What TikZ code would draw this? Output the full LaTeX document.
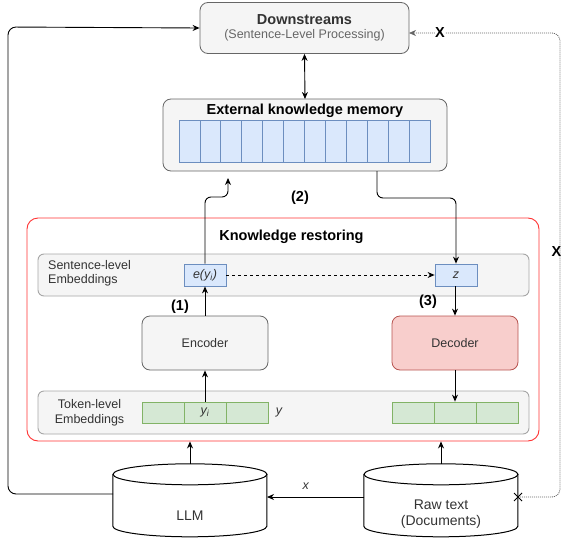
\documentclass[tikz,border=0pt]{standalone}
\usepackage{fontspec}
\setmainfont{Liberation Sans}
\usetikzlibrary{arrows.meta}

\definecolor{boxgray}{HTML}{F5F5F5}
\definecolor{linegray}{HTML}{666666}
\definecolor{bandline}{HTML}{A6A6A6}
\definecolor{bluefill}{HTML}{DAE8FC}
\definecolor{blueline}{HTML}{6C8EBF}
\definecolor{greenfill}{HTML}{D5E8D4}
\definecolor{greenline}{HTML}{82B366}
\definecolor{redfill}{HTML}{F8CECC}
\definecolor{redline}{HTML}{B85450}
\definecolor{restoreline}{HTML}{FF3333}
\definecolor{textgray}{HTML}{333333}

\newcommand{\txt}{\fontsize{12.5}{14.5}\selectfont}
\newcommand{\ttl}{\fontsize{14.5}{16}\selectfont\bfseries}

\tikzset{
	graybox/.style={draw=linegray, fill=boxgray, rounded corners=8pt, line width=0.8pt, text=textgray, font=\txt},
	band/.style={draw=bandline, fill=boxgray, rounded corners=6pt, line width=0.9pt, minimum width=491pt, inner sep=0pt},
	bluecell/.style={draw=blueline, fill=bluefill, line width=0.8pt, minimum width=42pt, minimum height=22pt, inner sep=0pt, text=textgray, font=\txt\itshape},
	greencell/.style={draw=greenline, fill=greenfill, line width=0.8pt, minimum width=42pt, minimum height=21pt, inner sep=0pt, text=textgray, font=\txt\itshape},
	conn/.style={line width=0.9pt, ->},
	dotline/.style={line width=0.8pt, draw=linegray, dash pattern=on 1pt off 1pt},
	cylline/.style={line width=1pt, draw=black},
	cyltext/.style={font=\fontsize{14}{16}\selectfont, text=textgray, align=center},
	steplabel/.style={font=\ttl, text=black}
}

\begin{document}
\begin{tikzpicture}[x=1pt, y=-1pt, >={Stealth[length=7pt,width=6pt]}]
	\useasboundingbox (0,0) rectangle (562,538);

	% top: downstream tasks
	\node[graybox, minimum width=209pt, minimum height=51pt, align=center] (down) at (304.5,28)
		{{\fontsize{14.5}{16}\selectfont\bfseries Downstreams}\\[-1pt]{\color{linegray}(Sentence-Level Processing)}};

	% memory
	\node[graybox, minimum width=284pt, minimum height=72pt] (mem) at (305,135) {};
	\node[steplabel] (memtitle) at (305,111) {External knowledge memory};
	\foreach \i in {0,...,11}
		\draw[draw=blueline, fill=bluefill, line width=0.8pt] (179+\i*20.917,120) rectangle ++(20.917,42);
	\draw[conn, <->] (down.south) -- (mem.south |- 0,99);

	% knowledge restoring block
	\node[draw=restoreline, rounded corners=11pt, line width=0.9pt, minimum width=512pt, minimum height=223pt] (restore) at (283,329.5) {};
	\node[steplabel] (restoretitle) at (291.5,237) {Knowledge restoring};

	\node[band, minimum height=42pt] (sentband) at (283.5,275) {};
	\node[font=\txt, text=textgray, align=left, anchor=west, inner sep=0pt] (sentlabel) at (48,273.5) {Sentence-level\\Embeddings};
	\node[bluecell] (ey) at (205,275) {e(y\textsubscript{i})};
	\node[bluecell] (zz) at (456,275) {z};

	\node[graybox, minimum width=126pt, minimum height=54pt] (enc) at (205,343) {Encoder};
	\node[graybox, draw=redline, fill=redfill, minimum width=126pt, minimum height=54pt] (dec) at (455,343) {Decoder};

	\node[band, minimum height=43pt] (tokband) at (283.5,412.5) {};
	\node[font=\txt, text=textgray, align=center, inner sep=0pt] (toklabel) at (89.5,413) {Token-level\\Embeddings};
	\foreach \i in {0,1,2} {
		\node[greencell] (tl\i) at (163+\i*42,412.5) {};
		\node[greencell] (tr\i) at (413+\i*42,412.5) {};
	}
	\node[font=\txt\itshape, text=textgray] (yi) at (tl1) {y\textsubscript{i}};
	\node[font=\txt\itshape, text=textgray] (ylabel) at (279,412) {y};

	% flow inside the block
	\draw[conn] (tl1.north) -- (enc.south);
	\draw[conn] (enc.north) -- (ey.south);
	\draw[conn, dashed] (ey.east) -- (zz.west);
	\draw[conn] (zz.south -| dec.north) -- (dec.north);
	\draw[conn] (dec.south) -- (tr1.north);

	\coordinate (memin) at (228,178);
	\draw[conn, rounded corners=6pt] (ey.north) -- (205,197) -- (228,197) -- (memin);
	\draw[conn, rounded corners=6pt] (377,171) -- (377,198) -- (456,198) -- (zz.north);

	\node[steplabel] (s1) at (180,307) {(1)};
	\node[steplabel] (s2) at (300,198) {(2)};
	\node[steplabel] (s3) at (428,302) {(3)};

	% cylinders
	\node[minimum width=154pt, minimum height=73pt, inner sep=0pt] (llm) at (190,500.5) {};
	\node[minimum width=154pt, minimum height=73pt, inner sep=0pt] (raw) at (441,500.5) {};
	\foreach \c in {llm,raw} {
		\draw[cylline] (\c.north) ++(0,10.5) ellipse[x radius=77pt, y radius=10.5pt];
		\draw[cylline] (\c.north west) ++(0,10.5) -- ++(0,52) arc[start angle=180, end angle=360, x radius=77pt, y radius=10.5pt] -- ++(0,-52);
	}
	\node[cyltext] (llmtext) at (190,516) {LLM};
	\node[cyltext] (rawtext) at (441,514) {Raw text\\(Documents)};

	\draw[conn] (llm.north) -- (llm.north |- restore.south);
	\draw[conn] (raw.north) -- (raw.north |- restore.south);

	\coordinate (rawl) at (364,497);
	\coordinate (llmr) at (267,497);
	\draw[conn] (rawl) -- node[pos=0.6, above=4pt, font=\txt\itshape, text=textgray] (xlabel) {x} (llmr);

	\coordinate (llmout) at (113,494);
	\draw[conn, rounded corners=8pt] (llmout) -- (8,494) -- (8,27) -- (down.west);

	\coordinate (rawx) at (518,497);
	\coordinate (downin) at (409,33);
	\draw[dotline, ->, rounded corners=8pt] (rawx) -- (560,497) -- (560,33) -- (downin);
	\draw[line width=0.9pt] (rawx) ++(-4,-4) -- ++(8,8) ++(0,-8) -- ++(-8,8);
	\node[font=\ttl, fill=white, inner sep=0.5pt] (xtop) at (440,33) {X};
	\node[font=\ttl, inner sep=0.5pt, anchor=east] (xright) at (562,252) {X};
\end{tikzpicture}
\end{document}
